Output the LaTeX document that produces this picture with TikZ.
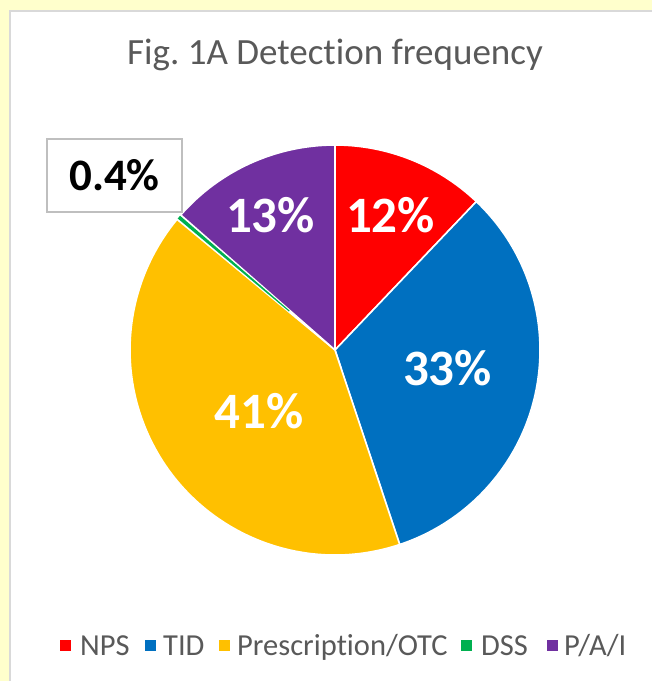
\documentclass[tikz,border=0pt]{standalone}
\usepackage{fontspec}
\usetikzlibrary{calc}
\setmainfont{Carlito}[Ligatures={NoCommon}]
\frenchspacing
\definecolor{pageyellow}{HTML}{FFFFCC}
\definecolor{frameGray}{HTML}{D9D9D9}
\definecolor{textGray}{HTML}{595959}
\definecolor{boxGray}{HTML}{BFBFBF}
\definecolor{cNPS}{HTML}{FF0000}
\definecolor{cTID}{HTML}{0070C0}
\definecolor{cRx}{HTML}{FFC000}
\definecolor{cDSS}{HTML}{00B050}
\definecolor{cPAI}{HTML}{7030A0}
\begin{document}
\begin{tikzpicture}[x=1pt,y=1pt,
  slice/.style={draw=white,line width=1.6pt,line join=miter},
  pctlabel/.style={text=white,font=\fontsize{51}{55}\selectfont\bfseries,inner sep=0pt,anchor=base},
  legtext/.style={text=textGray,font=\fontsize{30.5}{33}\selectfont,anchor=base west,inner sep=0pt},
  legkey/.style={minimum size=11pt,inner sep=0pt,draw=none}]
\useasboundingbox (0,0) rectangle (652,681);
% page and chart area
\fill[pageyellow] (0,0) rectangle (652,681);
\fill[white] (10,-5) rectangle (660,670);
\draw[frameGray,line width=2pt] (10,-5) -- (10,670) -- (660,670);
% title
\node[text=textGray,font=\fontsize{37}{40}\selectfont,anchor=base,inner sep=0pt] (title) at (335,616) {Fig. 1A Detection frequency};
% pie
\coordinate (C) at (335,331);
\def\R{205}
\fill[cNPS,slice] (C) -- ++(90:\R) arc[start angle=90,end angle=46.4,radius=\R] -- cycle;
\fill[cTID,slice] (C) -- ++(46.4:\R) arc[start angle=46.4,end angle=-71.6,radius=\R] -- cycle;
\fill[cRx,slice] (C) -- ++(-71.6:\R) arc[start angle=-71.6,end angle=-219.6,radius=\R] -- cycle;
\fill[cPAI,slice] (C) -- ++(-221.2:\R) arc[start angle=-221.2,end angle=-270,radius=\R] -- cycle;
\fill[cDSS] ($(C)+(-219.9:60)$) -- ($(C)+(-219.9:\R)$) arc[start angle=-219.9,end angle=-220.9,radius=\R] -- ($(C)+(-220.9:60)$) -- cycle;
% data labels
\node[pctlabel] (lNPS) at (390.5,448) {12\%};
\node[pctlabel] (lPAI) at (270.5,448) {13\%};
\node[pctlabel] (lTID) at (447.5,295) {33\%};
\node[pctlabel] (lRx) at (259,252) {41\%};
\node[draw=boxGray,line width=1.5pt,fill=white,minimum width=135pt,minimum height=73pt,inner sep=0pt] (lDSS) at (114.5,505.5) {};
\node[font=\fontsize{45}{48}\selectfont\bfseries,anchor=base,inner sep=0pt] (lDSStext) at (114.5,490) {0.4\%};
% legend
\node[legkey,fill=cNPS] (kNPS) at (65,35) {};
\node[legtext] (tNPS) at (80,26) {NPS};
\node[legkey,fill=cTID] (kTID) at (150,35) {};
\node[legtext] (tTID) at (163,26) {TID};
\node[legkey,fill=cRx] (kRx) at (224.5,35) {};
\node[legtext] (tRx) at (237,26) {Prescription/OTC};
\node[legkey,fill=cDSS] (kDSS) at (466.5,35) {};
\node[legtext] (tDSS) at (481,26) {DSS};
\node[legkey,fill=cPAI] (kPAI) at (552.5,35) {};
\node[legtext] (tPAI) at (564,26) {P/A/I};
\end{tikzpicture}
\end{document}
